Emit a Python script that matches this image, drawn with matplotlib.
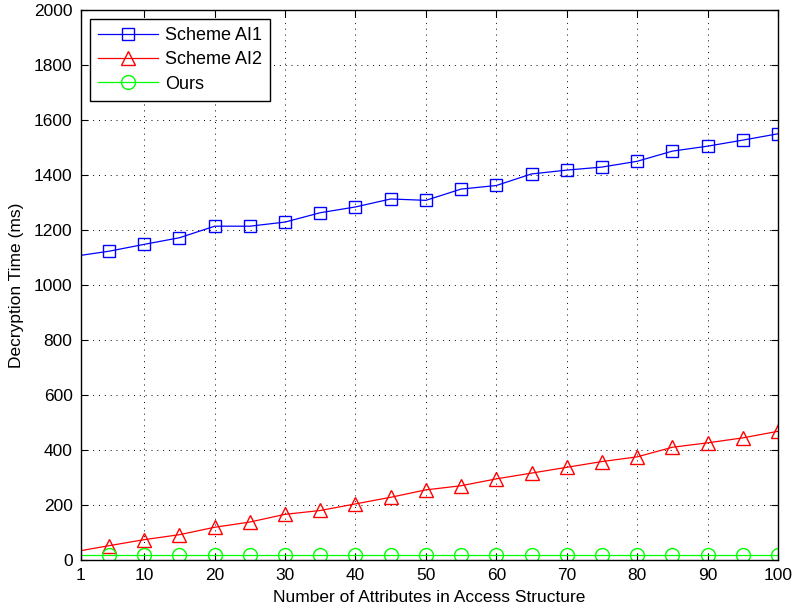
import matplotlib
matplotlib.use('Agg')
import matplotlib.pyplot as plt

plt.rcParams['font.family'] = ['Liberation Sans', 'DejaVu Sans']

# data
x = [1, 5, 10, 15, 20, 25, 30, 35, 40, 45, 50, 55, 60, 65, 70, 75, 80, 85, 90, 95, 100]
scheme_ai1 = [1108, 1123, 1148, 1172, 1214, 1214, 1229, 1263, 1284, 1313, 1308, 1349, 1362,
              1404, 1418, 1429, 1450, 1487, 1505, 1527, 1550]
scheme_ai2 = [34, 52, 74, 92, 119, 138, 166, 180, 204, 228, 255, 270, 295, 316, 337, 358,
              375, 410, 426, 444, 468]
ours = [18] * len(x)

xticks = [1, 10, 20, 30, 40, 50, 60, 70, 80, 90, 100]

fig = plt.figure(figsize=(7.93, 6.11), dpi=100)
ax = fig.add_axes([0.102, 0.0835, 0.879, 0.900])

# first point (x=1) is drawn without a marker
mk = list(range(1, len(x)))
ax.plot(x, scheme_ai1, color='#0000ff', lw=0.9, marker='s', markersize=9, mfc='none',
        markeredgewidth=1.0, markevery=mk, label='Scheme AI1')
ax.plot(x, scheme_ai2, color='#ff0000', lw=0.9, marker='^', markersize=10, mfc='none',
        markeredgewidth=1.0, markevery=mk, label='Scheme AI2')
ax.plot(x, ours, color='#00ff00', lw=0.9, marker='o', markersize=10, mfc='none',
        markeredgewidth=1.0, markevery=mk, label='Ours')

ax.set_xlim(1, 100)
ax.set_ylim(0, 2000)
ax.set_xticks(xticks)
ax.set_yticks(range(0, 2001, 200))
ax.tick_params(direction='in', top=True, right=True, labelsize=12.5, length=5, pad=6)
ax.grid(True, linestyle=(0, (1, 5)), color='black', linewidth=0.7)

ax.set_xlabel('Number of Attributes in Access Structure', fontsize=12.5, labelpad=5)
ax.set_ylabel('Decryption Time (ms)', fontsize=12.5, labelpad=7)

leg = ax.legend(loc='upper left', fontsize=13, fancybox=False, framealpha=1,
                edgecolor='black', borderaxespad=0.5, handlelength=3.3,
                handletextpad=0.4, labelspacing=0.4, borderpad=0.45)
leg.get_frame().set_linewidth(1.0)

for s in ax.spines.values():
    s.set_linewidth(1.0)

fig.savefig('out.png', dpi=100)
